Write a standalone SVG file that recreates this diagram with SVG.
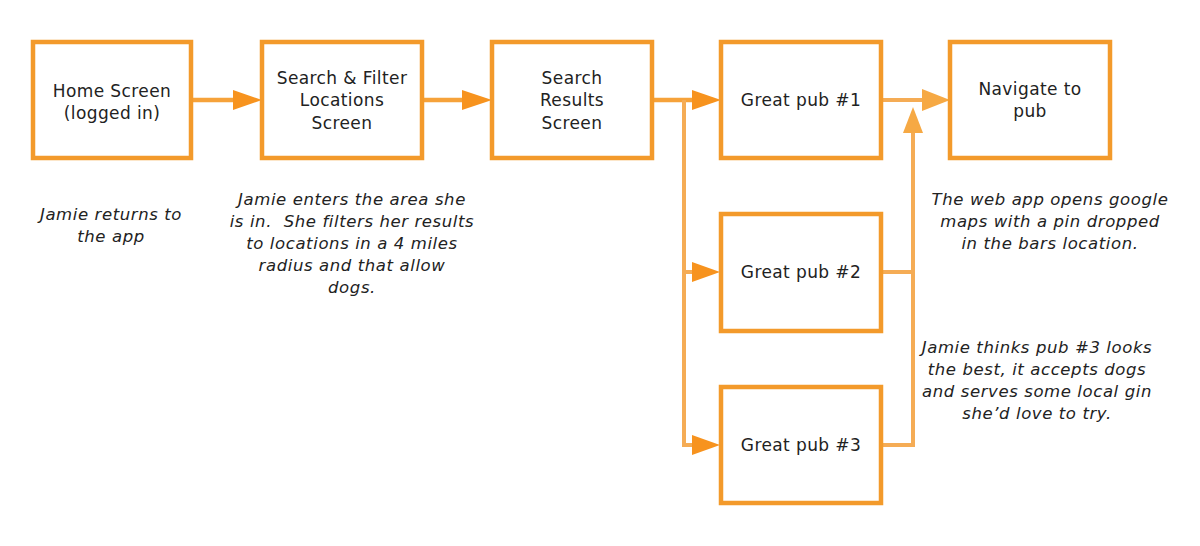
<svg xmlns="http://www.w3.org/2000/svg" width="1200" height="546" viewBox="0 0 1200 546">
<style>
.box{fill:#fff;stroke:#F39A2B;stroke-width:4.5}
.lbl{font-family:"DejaVu Sans","Open Sans",sans-serif;font-size:17px;letter-spacing:0.4px;fill:#222;text-anchor:middle}
.note{font-family:"DejaVu Sans","Open Sans",sans-serif;font-size:16.5px;letter-spacing:0.6px;font-style:italic;fill:#222;text-anchor:middle;white-space:pre}
.c{fill:none;stroke:#F6A23A;stroke-width:4.5}
.c2{fill:none;stroke:#F5AC55;stroke-width:4}
.h{fill:#F7931E}
.h2{fill:#F6A944}
</style>
<rect width="1200" height="546" fill="#fff"/>
<g id="connectors">
<path class="c" d="M191,100 H236"/><polygon class="h" points="233,90 262,100 233,110"/>
<path class="c" d="M422,100 H466"/><polygon class="h" points="462,90 492,100 462,110"/>
<path class="c" d="M652,100 H694"/><polygon class="h" points="692,90 721,100 692,110"/>
<path class="c2" d="M684,100 V445 H694"/>
<path class="c2" d="M684,272 H694"/>
<polygon class="h" points="692,262 720,272 692,282"/>
<polygon class="h" points="692,435 720,445 692,455"/>
<path class="c2" d="M881,272 H913"/>
<path class="c2" d="M881,445 H913 V130"/>
<polygon class="h2" points="903,133 913,107 923,133"/>
<path class="c2" d="M880,100 H924"/><polygon class="h2" points="922,89 950,100 922,111"/>
</g>
<g id="home"><rect class="box" x="33" y="42" width="158" height="116"/>
<text class="lbl" x="112" y="97">Home Screen</text><text class="lbl" x="112" y="119">(logged in)</text></g>
<g id="search"><rect class="box" x="262" y="42" width="160" height="116"/>
<text class="lbl" x="342" y="84">Search &amp; Filter</text><text class="lbl" x="342" y="106">Locations</text><text class="lbl" x="342" y="129">Screen</text></g>
<g id="results"><rect class="box" x="492" y="42" width="160" height="116"/>
<text class="lbl" x="572" y="84">Search</text><text class="lbl" x="572" y="106">Results</text><text class="lbl" x="572" y="129">Screen</text></g>
<g id="pub1"><rect class="box" x="721" y="42" width="160" height="116"/>
<text class="lbl" x="801" y="106">Great pub #1</text></g>
<g id="navigate"><rect class="box" x="950" y="42" width="160" height="116"/>
<text class="lbl" x="1030" y="95">Navigate to</text><text class="lbl" x="1030" y="117">pub</text></g>
<g id="pub2"><rect class="box" x="721" y="214" width="160" height="117"/>
<text class="lbl" x="801" y="278">Great pub #2</text></g>
<g id="pub3"><rect class="box" x="721" y="387" width="160" height="116"/>
<text class="lbl" x="801" y="451">Great pub #3</text></g>
<g id="notes">
<text class="note" x="111" y="220">Jamie returns to</text>
<text class="note" x="111" y="242">the app</text>
<text class="note" x="352" y="205">Jamie enters the area she</text>
<text class="note" x="352" y="227">is in.  She filters her results</text>
<text class="note" x="352" y="249">to locations in a 4 miles</text>
<text class="note" x="352" y="271">radius and that allow</text>
<text class="note" x="352" y="293">dogs.</text>
<text class="note" x="1050" y="205">The web app opens google</text>
<text class="note" x="1050" y="227">maps with a pin dropped</text>
<text class="note" x="1050" y="249">in the bars location.</text>
<text class="note" x="1037" y="353">Jamie thinks pub #3 looks</text>
<text class="note" x="1037" y="375">the best, it accepts dogs</text>
<text class="note" x="1037" y="397">and serves some local gin</text>
<text class="note" x="1037" y="419">she’d love to try.</text>
</g>
</svg>
